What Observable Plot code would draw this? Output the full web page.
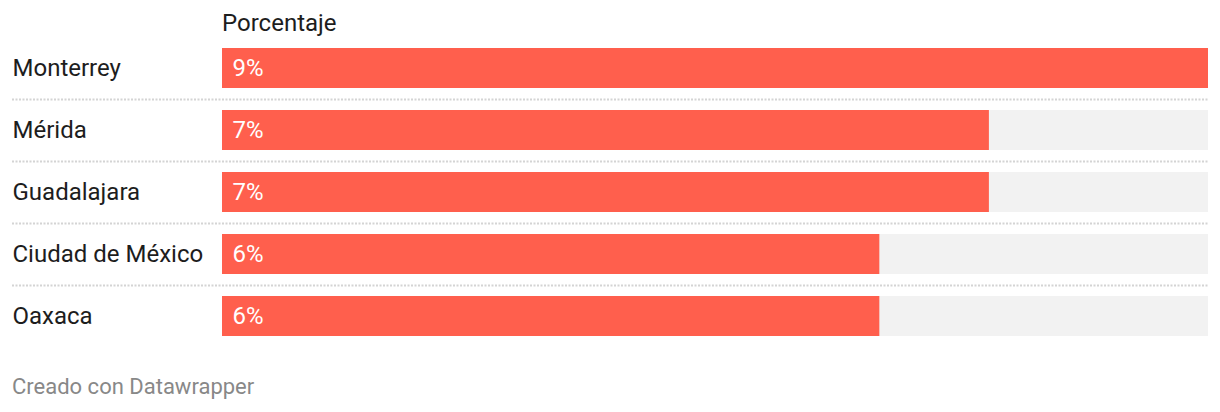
<!DOCTYPE html>
<html>
<head>
<meta charset="utf-8">
<script src="https://cdn.jsdelivr.net/npm/d3@7"></script>
<script src="https://cdn.jsdelivr.net/npm/@observablehq/plot@0.6"></script>
<style>
  html, body { margin: 0; padding: 0; background: #fff; }
  body { width: 1220px; height: 412px; position: relative; font-family: Roboto, sans-serif; overflow: hidden; }
  #header { position: absolute; left: 222px; top: 8px; font-size: 24px; color: #1d1d1d; line-height: 30px; }
  #chart { position: absolute; left: 0; top: 37px; }
  #footer { position: absolute; left: 12px; top: 373px; font-size: 22px; color: #888; line-height: 28px; }
</style>
</head>
<body>
<div id="header"></div>
<div id="chart"></div>
<div id="footer">Creado con Datawrapper</div>
<script>
const cities = ["Monterrey", "Mérida", "Guadalajara", "Ciudad de México", "Oaxaca"];
const values = [9, 7, 7, 6, 6];
const columnTitle = "Porcentaje";

document.getElementById("header").textContent = columnTitle;

const data = cities.map((c, i) => ({city: c, value: values[i]}));
const maxVal = d3.max(values);
const separators = cities.slice(0, -1);

const plot = Plot.plot({
  width: 1220,
  height: 310,
  marginLeft: 12,
  marginRight: 12,
  marginTop: 0,
  marginBottom: 0,
  style: {fontFamily: "Roboto, sans-serif", background: "transparent"},
  x: {domain: [0, maxVal], range: [222, 1208], axis: null},
  y: {domain: cities, padding: 0, axis: null},
  marks: [
    Plot.barX(data, {y: "city", x1: 0, x2: maxVal, fill: "#f2f2f2", insetTop: 11, insetBottom: 11}),
    Plot.barX(data, {y: "city", x1: 0, x2: "value", fill: "#ff5f4d", insetTop: 11, insetBottom: 11}),
    Plot.ruleY(separators, {y: d => d, dy: 31, stroke: "#d4d4d4", strokeWidth: 2, strokeDasharray: "2,1.5"}),
    Plot.text(data, {y: "city", text: "city", frameAnchor: "left", textAnchor: "start", fontSize: 24, fill: "#1d1d1d", dy: 0}),
    Plot.text(data, {y: "city", x: 0, text: d => d.value + "%", textAnchor: "start", dx: 10, fontSize: 24, fill: "#fff", dy: 0})
  ]
});
document.getElementById("chart").appendChild(plot);
</script>
</body>
</html>
